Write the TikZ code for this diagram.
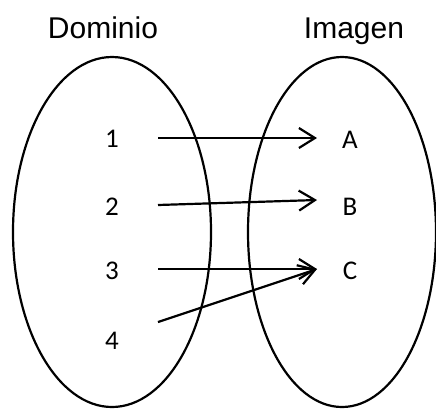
\documentclass[tikz,border=0pt]{standalone}
\usepackage{fontspec}
\setmainfont{Liberation Sans}
\newfontfamily\calfont{Carlito}
\usetikzlibrary{arrows.meta}
\begin{document}
\begin{tikzpicture}[x=1pt,y=-1pt,
  set/.style={draw,line width=2.2pt},
  elem/.style={font=\calfont\fontsize{27}{30}\selectfont,inner sep=0pt,anchor=base},
  title/.style={font=\fontsize{30}{34}\selectfont,inner sep=0pt,anchor=base},
  mapto/.style={line width=2.2pt,-{Straight Barb[length=16pt,width=20pt,line width=2.2pt]}}]
\useasboundingbox (0,0) rectangle (436,408);
\draw[set] (112,232) ellipse [x radius=99, y radius=175];
\draw[set] (342,232) ellipse [x radius=94, y radius=175];
\node[title] (dom) at (103,38) {Dominio};
\node[title] (img) at (354,38) {Imagen};
\node[elem] (n1) at (112,147) {1};
\node[elem] (n2) at (112,215) {2};
\node[elem] (n3) at (112,279) {3};
\node[elem] (n4) at (112,349) {4};
\node[elem] (a) at (350,148) {A};
\node[elem] (b) at (350,215) {B};
\node[elem] (c) at (350,279) {C};
\coordinate (s1) at (158,138);
\coordinate (s2) at (158,205);
\coordinate (s3) at (158,269);
\coordinate (s4) at (158,322);
\coordinate (ta) at (317,138);
\coordinate (tb) at (317,200);
\coordinate (tc) at (317,269);
\draw[mapto] (s1) -- (ta);
\draw[mapto] (s2) -- (tb);
\draw[mapto] (s3) -- (tc);
\draw[mapto] (s4) -- (tc);
\end{tikzpicture}
\end{document}
